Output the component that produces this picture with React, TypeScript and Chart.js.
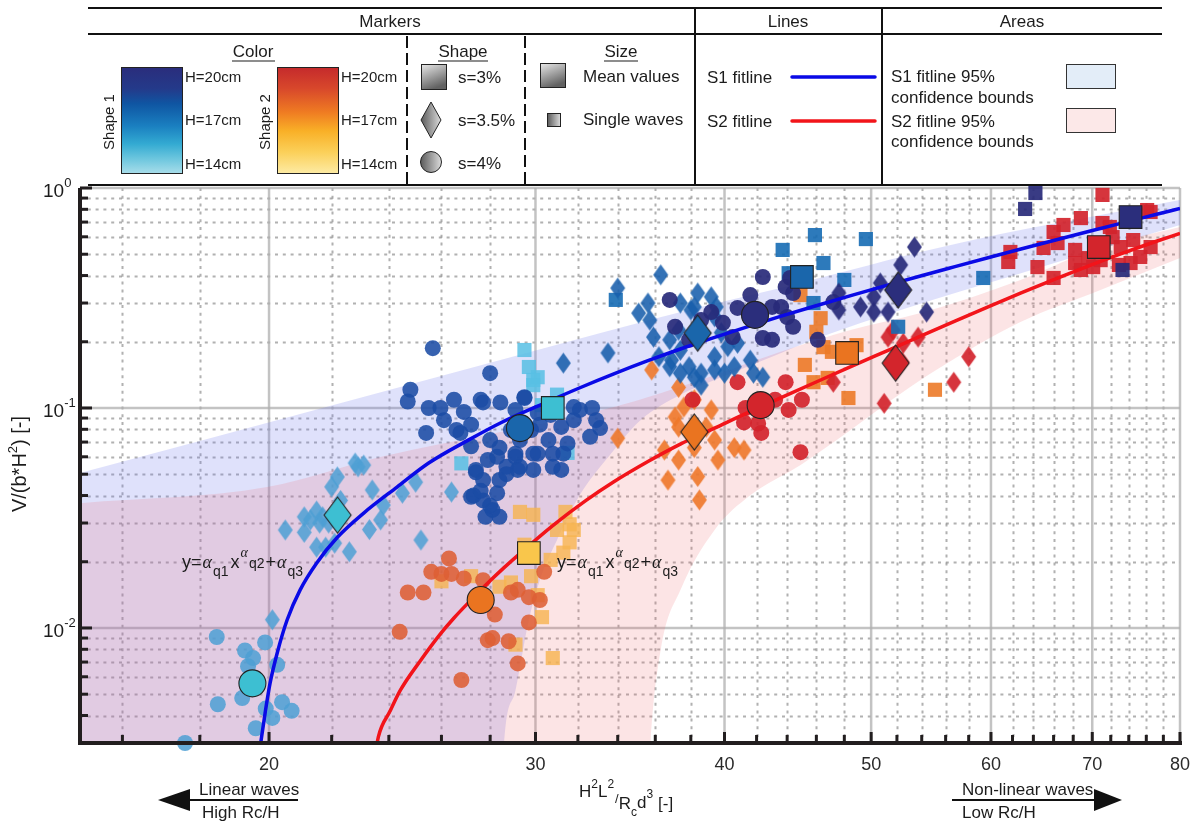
import React, { useEffect, useRef } from "react";
import { Chart, registerables } from "chart.js";

Chart.register(...registerables);

type P = [number, number];

// ---------------- axes ----------------
const xLimits: P = [15, 80];
const yLimits: P = [0.003, 1];
const xMajorTicks = [20, 30, 40, 50, 60, 70, 80];
const xTickLabels = ["20", "30", "40", "50", "60", "70", "80"];
const xMinorTicks = [16, 18, 22, 24, 26, 28, 32, 34, 36, 38, 42, 44, 46, 48, 52, 54, 56, 58, 62, 64, 66, 68, 72, 74, 76, 78];
const yMajorTicks = [0.01, 0.1, 1];
const yTickExponents = ["-2", "-1", "0"];
const yMinorTicks = [0.004, 0.005, 0.006, 0.007, 0.008, 0.009, 0.02, 0.03, 0.04, 0.05, 0.06, 0.07, 0.08, 0.09, 0.2, 0.3, 0.4, 0.5, 0.6, 0.7, 0.8, 0.9];

// ---------------- fit lines ----------------
const s1FitLine: P[] = [[19.72, 0.0028], [19.88, 0.0041], [20.03, 0.0056], [20.25, 0.0077], [20.56, 0.0109], [20.97, 0.0149], [21.5, 0.0197], [22.2, 0.0259], [23.1, 0.0333], [24.3, 0.0437], [25.5, 0.0562], [27.1, 0.0716], [28.44, 0.0855], [30.6, 0.1072], [32.1, 0.1236], [33.8, 0.1429], [35.6, 0.164], [37.4, 0.1854], [39.4, 0.2095], [41.5, 0.2351], [43.6, 0.2614], [45.8, 0.2894], [48.6, 0.326], [51.4, 0.3637], [53.9, 0.3983], [56.8, 0.4391], [59.9, 0.4843], [62.8, 0.528], [66.2, 0.5803], [69.7, 0.6357], [73.1, 0.6909], [77.1, 0.7577], [80, 0.8079]];
const s2FitLine: P[] = [[23.5, 0.0026], [23.62, 0.0032], [24.05, 0.0042], [24.42, 0.0052], [25.18, 0.0071], [25.96, 0.0094], [26.5, 0.0111], [27.17, 0.0133], [27.9, 0.016], [28.6, 0.0188], [29.32, 0.0219], [30.8, 0.0292], [32.4, 0.038], [33.8, 0.0462], [35.6, 0.0571], [37.4, 0.0685], [39.4, 0.081], [41.5, 0.0958], [43.56, 0.1112], [46.3, 0.134], [48.6, 0.1553], [51.4, 0.1839], [53.9, 0.2123], [56.8, 0.2483], [59.9, 0.2904], [62.76, 0.3324], [66.2, 0.3862], [69.7, 0.4437], [73.1, 0.5018], [77.1, 0.5713], [80, 0.622]];

// ---------------- 95% confidence bounds ----------------
const s1BoundUpper: P[] = [[15, 0.0506], [18, 0.0708], [20.97, 0.0939], [24.42, 0.1246], [28.44, 0.1652], [33.12, 0.2193], [38.57, 0.2877], [43.56, 0.351], [48.46, 0.424], [53.91, 0.512], [60.88, 0.618], [70.88, 0.754], [80, 0.882]];
const s1BoundLower: P[] = [[15, 0.0003], [28.2, 0.0003], [28.6, 0.003], [29.1, 0.0052], [29.7, 0.0109], [30.2, 0.0165], [31.0, 0.0251], [32.1, 0.0403], [33.6, 0.0612], [35.2, 0.088], [37.4, 0.115], [39.4, 0.134], [43.6, 0.178], [46.3, 0.21], [52.3, 0.279], [62.8, 0.41], [80, 0.679]];
const s2BoundUpper: P[] = [[15, 0.0369], [19.94, 0.0437], [23.69, 0.0599], [28.44, 0.0777], [33.8, 0.101], [38.57, 0.134], [43.56, 0.18], [48.46, 0.226], [53.91, 0.27], [62.76, 0.382], [70.88, 0.539], [80, 0.665]];
const s2BoundLower: P[] = [[15, 0.0003], [35.2, 0.0003], [35.74, 0.003], [36.29, 0.0079], [37.41, 0.0149], [39.4, 0.0279], [41.62, 0.0402], [44.91, 0.0551], [48.46, 0.0794], [51.35, 0.1065], [55.2, 0.149], [62.76, 0.246], [70.88, 0.344], [80, 0.48]];

// ---------------- single waves, Shape 1 ----------------
const s1CircleH14: P[] = [[18.47, 0.0091], [19.28, 0.0079], [19.52, 0.0073], [19.37, 0.0067], [20.25, 0.0068], [19.88, 0.0086], [18.5, 0.0045], [19.2, 0.0048], [19.9, 0.0043], [20.1, 0.0039], [20.4, 0.0046], [20.7, 0.0042], [19.6, 0.0035], [17.6, 0.003]];
const s1DiamondH14: P[] = [[22.19, 0.0486], [22.0, 0.0438], [22.8, 0.0562], [23.1, 0.055], [22.9, 0.054], [23.4, 0.0424], [24.5, 0.041], [25.0, 0.046], [26.4, 0.0415], [23.8, 0.0362], [21.1, 0.032], [21.5, 0.034], [21.7, 0.032], [21.6, 0.03], [21.9, 0.03], [20.5, 0.0279], [21.1, 0.0272], [21.5, 0.0233], [21.8, 0.0233], [22.1, 0.0243], [22.6, 0.0222], [23.3, 0.028], [23.7, 0.031], [25.2, 0.0251], [20.1, 0.0109], [21.3, 0.031], [22.3, 0.038]];
const s1SquareH14: P[] = [[29.5, 0.1835], [29.7, 0.1536], [30.1, 0.138], [29.9, 0.134], [29.9, 0.127], [31.0, 0.115], [26.8, 0.056], [31.5, 0.0625], [30.3, 0.103]];
const s1CircleH17: P[] = [[25.66, 0.187], [28.0, 0.144], [24.8, 0.121], [24.7, 0.107], [25.5, 0.1], [25.96, 0.1], [26.5, 0.109], [27.6, 0.109], [26.9, 0.096], [26.76, 0.077], [25.4, 0.077], [27.4, 0.0523], [27.3, 0.04], [27.7, 0.038], [27.8, 0.032], [28.1, 0.0344], [27.7, 0.106], [28.44, 0.106], [29.5, 0.112], [29.1, 0.098], [30.1, 0.095], [31.8, 0.101], [32.7, 0.1], [32.9, 0.088], [33.1, 0.081], [31.8, 0.088], [31.2, 0.082], [30.6, 0.0715], [31.5, 0.069], [30.8, 0.062], [29.9, 0.062], [29.1, 0.062], [28.4, 0.066], [28.0, 0.0715], [27.9, 0.058], [28.7, 0.054], [29.3, 0.054], [29.9, 0.0523], [30.8, 0.054], [31.2, 0.0523], [32.6, 0.074], [27.7, 0.047], [28.3, 0.041], [28.0, 0.036], [28.4, 0.032], [29.5, 0.111], [32.1, 0.098], [26.6, 0.0794], [28.3, 0.06], [29.1, 0.06], [30.1, 0.062], [29.2, 0.0523], [27.4, 0.051], [28.7, 0.05], [31.3, 0.062], [27.2, 0.0395], [27.6, 0.042], [26.1, 0.088], [27.2, 0.084], [28.9, 0.0794], [29.8, 0.0794], [30.2, 0.084], [30.7, 0.093], [29.3, 0.0715], [27.2, 0.067], [28.4, 0.047]];
const s1DiamondH17: P[] = [[36.3, 0.403], [34.0, 0.351], [35.1, 0.27], [33.5, 0.178], [31.3, 0.16], [35.6, 0.3], [35.7, 0.251], [35.9, 0.21], [36.8, 0.204], [37.4, 0.3], [38.4, 0.333], [39.2, 0.32], [38.2, 0.288], [39.4, 0.26], [37.4, 0.183], [36.9, 0.165], [37.9, 0.154], [38.6, 0.144], [39.4, 0.171], [40.2, 0.19], [40.8, 0.197], [39.4, 0.149], [40.0, 0.144], [40.6, 0.154], [41.6, 0.165], [41.8, 0.144], [42.4, 0.138], [37.4, 0.144], [38.2, 0.138], [36.8, 0.154], [36.2, 0.171], [37.3, 0.226], [39.8, 0.22], [38.0, 0.279], [39.5, 0.288], [38.6, 0.127]];
const s1SquareH17: P[] = [[33.9, 0.31], [43.7, 0.523], [45.9, 0.611], [49.6, 0.586], [46.5, 0.456], [48.0, 0.382], [44.1, 0.41], [59.3, 0.39], [52.1, 0.234], [45.8, 0.3]];
const s1CircleH20: P[] = [[36.8, 0.31], [37.1, 0.234], [37.9, 0.204], [39.2, 0.273], [39.9, 0.244], [40.8, 0.285], [41.6, 0.326], [42.4, 0.394], [43.0, 0.288], [43.0, 0.204], [44.4, 0.234], [44.2, 0.39], [46.1, 0.204], [47.2, 0.303], [42.4, 0.208], [40.5, 0.21], [43.9, 0.355], [44.4, 0.333], [43.6, 0.288], [44.0, 0.259], [38.6, 0.251]];
const s1DiamondH20: P[] = [[53.4, 0.539], [52.3, 0.447], [50.7, 0.37], [47.6, 0.333], [47.6, 0.279], [49.2, 0.288], [50.2, 0.32], [50.2, 0.273], [51.3, 0.273], [54.4, 0.273]];
const s1SquareH20: P[] = [[64.2, 0.949], [63.2, 0.803], [73.3, 0.424]];

// ---------------- single waves, Shape 2 ----------------
const s2SquareH14: P[] = [[29.3, 0.0337], [29.9, 0.0327], [31.4, 0.0337], [31.6, 0.0296], [31.0, 0.0279], [31.6, 0.0245], [31.3, 0.022], [30.7, 0.0204], [29.8, 0.0172], [28.9, 0.0161], [28.4, 0.0154], [27.2, 0.0172], [26.0, 0.0163], [30.1, 0.0141], [30.3, 0.0112], [30.8, 0.0073], [29.1, 0.0084], [31.8, 0.0279], [29.5, 0.0239]];
const s2CircleH17: P[] = [[26.3, 0.0207], [25.6, 0.018], [26.0, 0.0176], [26.4, 0.0176], [26.9, 0.0168], [24.7, 0.0145], [25.3, 0.0145], [27.7, 0.0165], [30.4, 0.018], [28.9, 0.0145], [29.2, 0.0149], [29.7, 0.0138], [30.2, 0.0134], [28.2, 0.0115], [29.7, 0.0106], [24.4, 0.0096], [27.9, 0.0088], [28.1, 0.009], [28.8, 0.0087], [29.2, 0.0069], [26.8, 0.0058]];
const s2DiamondH17: P[] = [[35.8, 0.149], [37.3, 0.124], [34.0, 0.0729], [38.2, 0.109], [37.6, 0.101], [37.1, 0.091], [37.3, 0.0819], [39.2, 0.098], [38.9, 0.0819], [39.4, 0.0715], [38.2, 0.066], [37.3, 0.058], [36.5, 0.0644], [40.6, 0.066], [41.2, 0.0644], [39.6, 0.058], [38.4, 0.0488], [36.7, 0.047], [38.5, 0.0382]];
const s2SquareH17: P[] = [[44.9, 0.326], [46.3, 0.256], [46.0, 0.222], [46.5, 0.189], [47.1, 0.18], [48.9, 0.193], [45.8, 0.131], [46.8, 0.137], [48.3, 0.111], [55.1, 0.121], [45.2, 0.157]];
const s2CircleH20: P[] = [[38.1, 0.109], [40.8, 0.131], [43.9, 0.131], [45.0, 0.109], [44.1, 0.098], [41.2, 0.086], [42.1, 0.085], [42.3, 0.077], [44.9, 0.063], [41.3, 0.1], [43.2, 0.109]];
const s2DiamondH20: P[] = [[51.3, 0.21], [52.5, 0.197], [53.7, 0.21], [52.4, 0.162], [47.2, 0.131], [58.0, 0.171], [56.7, 0.131], [51.0, 0.105], [51.7, 0.226]];
const s2SquareH20: P[] = [[71.1, 0.93], [76.1, 0.794], [68.8, 0.73], [67.0, 0.679], [66.0, 0.631], [66.4, 0.562], [65.0, 0.534], [61.8, 0.512], [61.6, 0.461], [64.4, 0.437], [66.0, 0.39], [68.2, 0.456], [69.6, 0.48], [71.1, 0.693], [72.2, 0.598], [74.5, 0.58], [76.5, 0.539], [75.3, 0.486], [74.2, 0.456], [72.9, 0.447], [70.9, 0.47], [68.8, 0.424], [70.1, 0.437], [73.1, 0.539], [76.5, 0.778], [68.2, 0.523], [71.9, 0.665]];

// ---------------- mean values (H = 14, 17, 20 cm) ----------------
const s1MeanCircles: P[] = [[19.5, 0.0056], [29.3, 0.081], [41.9, 0.265]];
const s1MeanDiamonds: P[] = [[22.2, 0.0326], [38.4, 0.219], [52.1, 0.344]];
const s1MeanSquares: P[] = [[30.8, 0.1], [45.0, 0.394], [74.2, 0.738]];
const s2MeanCircles: P[] = [[27.6, 0.0134], [42.26, 0.103]];
const s2MeanDiamonds: P[] = [[38.2, 0.0778], [51.9, 0.16]];
const s2MeanSquares: P[] = [[29.7, 0.0219], [48.2, 0.178], [70.7, 0.539]];

// ---------------- styling ----------------
const FONT = '"Liberation Sans", Arial, Helvetica, sans-serif';
const SERIF = '"Liberation Serif", "DejaVu Serif", serif';
const TEXT = "#1c1c1c";

const pts = (a: P[]) => a.map(([x, y]) => ({ x, y }));

function diamondImg(fill: string, w: number, h: number, stroke?: string) {
  const c = document.createElement("canvas");
  const pad = 2;
  c.width = w + pad * 2;
  c.height = h + pad * 2;
  const ctx = c.getContext("2d")!;
  ctx.beginPath();
  ctx.moveTo(c.width / 2, pad);
  ctx.lineTo(c.width - pad, c.height / 2);
  ctx.lineTo(c.width / 2, c.height - pad);
  ctx.lineTo(pad, c.height / 2);
  ctx.closePath();
  ctx.fillStyle = fill;
  ctx.fill();
  if (stroke) {
    ctx.lineWidth = 1.1;
    ctx.strokeStyle = stroke;
    ctx.stroke();
  }
  return c;
}

type Run = { t: string; size: number; dy: number; serif?: boolean; italic?: boolean; gap?: number };

function runsWidth(ctx: CanvasRenderingContext2D, runs: Run[]) {
  let w = 0;
  for (const r of runs) {
    ctx.font = `${r.italic ? "italic " : ""}${r.size}px ${r.serif ? SERIF : FONT}`;
    w += ctx.measureText(r.t).width + (r.gap ?? 0);
  }
  return w;
}
function drawRuns(ctx: CanvasRenderingContext2D, x: number, base: number, runs: Run[]) {
  let cx = x;
  ctx.fillStyle = TEXT;
  ctx.textAlign = "left";
  ctx.textBaseline = "alphabetic";
  for (const r of runs) {
    ctx.font = `${r.italic ? "italic " : ""}${r.size}px ${r.serif ? SERIF : FONT}`;
    ctx.fillText(r.t, cx, base + r.dy);
    cx += ctx.measureText(r.t).width + (r.gap ?? 0);
  }
}

const formulaRuns: Run[] = [
  { t: "y=", size: 18, dy: 0, gap: 1 },
  { t: "α", size: 18, dy: 0, serif: true, italic: true, gap: 1 },
  { t: "q1", size: 14, dy: 8, gap: 2 },
  { t: "x", size: 18, dy: 0, gap: 1 },
  { t: "α", size: 14, dy: -11, serif: true, italic: true, gap: 1 },
  { t: "q2", size: 14, dy: 0, gap: 1 },
  { t: "+", size: 18, dy: 0, gap: 1 },
  { t: "α", size: 18, dy: 0, serif: true, italic: true, gap: 1 },
  { t: "q3", size: 14, dy: 8 },
];

const axesPlugin = {
  id: "paperAxes",
  beforeDatasetsDraw(chart: any) {
    const { ctx, chartArea: a, scales } = chart;
    const xs = scales.x, ys = scales.y;
    ctx.save();
    ctx.lineWidth = 2;
    ctx.strokeStyle = "rgba(140,140,140,0.68)";
    ctx.setLineDash([3, 4.8]);
    for (const v of xMinorTicks) {
      const p = Math.round(xs.getPixelForValue(v)) + 0.5;
      ctx.beginPath(); ctx.moveTo(p, a.top); ctx.lineTo(p, a.bottom); ctx.stroke();
    }
    for (const v of yMinorTicks) {
      const p = Math.round(ys.getPixelForValue(v)) + 0.5;
      ctx.beginPath(); ctx.moveTo(a.left, p); ctx.lineTo(a.right, p); ctx.stroke();
    }
    ctx.setLineDash([]);
    ctx.lineWidth = 2.5;
    ctx.strokeStyle = "rgba(175,175,175,0.75)";
    for (const v of xMajorTicks) {
      const p = xs.getPixelForValue(v);
      ctx.beginPath(); ctx.moveTo(p, a.top); ctx.lineTo(p, a.bottom); ctx.stroke();
    }
    for (const v of yMajorTicks) {
      const p = ys.getPixelForValue(v);
      ctx.beginPath(); ctx.moveTo(a.left, p); ctx.lineTo(a.right, p); ctx.stroke();
    }
    ctx.restore();
  },
  afterDatasetsDraw(chart: any) {
    const { ctx, chartArea: a, scales } = chart;
    const xs = scales.x, ys = scales.y;
    ctx.save();
    // axis lines
    ctx.strokeStyle = "#221e1f";
    ctx.lineWidth = 4;
    ctx.beginPath();
    ctx.moveTo(a.left, a.top);
    ctx.lineTo(a.left, a.bottom);
    ctx.lineTo(a.right + 2, a.bottom);
    ctx.stroke();
    // ticks
    ctx.lineWidth = 3;
    for (const v of yMinorTicks) {
      const p = ys.getPixelForValue(v);
      ctx.beginPath(); ctx.moveTo(a.left, p); ctx.lineTo(a.left + 8, p); ctx.stroke();
    }
    for (const v of yMajorTicks) {
      const p = ys.getPixelForValue(v);
      ctx.beginPath(); ctx.moveTo(a.left, p); ctx.lineTo(a.left + 12, p); ctx.stroke();
    }
    for (const v of xMinorTicks) {
      const p = xs.getPixelForValue(v);
      ctx.beginPath(); ctx.moveTo(p, a.bottom); ctx.lineTo(p, a.bottom - 8); ctx.stroke();
    }
    for (const v of xMajorTicks) {
      const p = xs.getPixelForValue(v);
      ctx.beginPath(); ctx.moveTo(p, a.bottom); ctx.lineTo(p, a.bottom - 11); ctx.stroke();
    }
    // x tick labels
    ctx.fillStyle = "#2a2a2a";
    ctx.font = `18px ${FONT}`;
    ctx.textAlign = "center";
    ctx.textBaseline = "alphabetic";
    xMajorTicks.forEach((v, i) => ctx.fillText(xTickLabels[i], xs.getPixelForValue(v), 770));
    // y tick labels 10^n
    yMajorTicks.forEach((v, i) => {
      const p = ys.getPixelForValue(v);
      drawRuns(ctx, 43, p + 9, [
        { t: "10", size: 19, dy: 0 },
        { t: yTickExponents[i], size: 13, dy: -10 },
      ]);
    });
    // y axis title
    const yTitle: Run[] = [
      { t: "V/(b*H", size: 20, dy: 0 },
      { t: "2", size: 13, dy: -9 },
      { t: ") [-]", size: 20, dy: 0 },
    ];
    ctx.save();
    ctx.translate(26, 464);
    ctx.rotate(-Math.PI / 2);
    drawRuns(ctx, -runsWidth(ctx, yTitle) / 2, 0, yTitle);
    ctx.restore();
    // x axis title
    drawRuns(ctx, 579, 797, [
      { t: "H", size: 17, dy: 0 },
      { t: "2", size: 12, dy: -9 },
      { t: "L", size: 17, dy: 0 },
      { t: "2", size: 12, dy: -9, gap: 1 },
      { t: "/", size: 13, dy: 6 },
      { t: "R", size: 17, dy: 12 },
      { t: "c", size: 12, dy: 19 },
      { t: "d", size: 17, dy: 11 },
      { t: "3", size: 12, dy: 1, gap: 5 },
      { t: "[-]", size: 17, dy: 12 },
    ]);
    // formulas
    drawRuns(ctx, 182, 568, formulaRuns);
    drawRuns(ctx, 557, 568, formulaRuns);
    // arrows
    ctx.strokeStyle = "#111";
    ctx.fillStyle = "#111";
    ctx.lineWidth = 2;
    ctx.beginPath(); ctx.moveTo(188, 800); ctx.lineTo(298, 800); ctx.stroke();
    ctx.beginPath(); ctx.moveTo(158, 800); ctx.lineTo(190, 789); ctx.lineTo(190, 811); ctx.closePath(); ctx.fill();
    ctx.beginPath(); ctx.moveTo(952, 800); ctx.lineTo(1096, 800); ctx.stroke();
    ctx.beginPath(); ctx.moveTo(1122, 800); ctx.lineTo(1094, 789); ctx.lineTo(1094, 811); ctx.closePath(); ctx.fill();
    ctx.font = `17px ${FONT}`;
    ctx.textAlign = "left";
    ctx.fillStyle = TEXT;
    ctx.fillText("Linear waves", 199, 795);
    ctx.fillText("High Rc/H", 202, 818);
    ctx.fillText("Non-linear waves", 962, 795);
    ctx.fillText("Low Rc/H", 962, 818);
    ctx.restore();
  },
};

// colours
const C = {
  s1h14: "rgba(78,160,212,0.86)",
  s1h14sq: "rgba(88,192,228,0.86)",
  s1h17c: "rgba(27,76,165,0.88)",
  s1h17d: "rgba(24,94,172,0.88)",
  s1h17s: "rgba(22,108,180,0.9)",
  s1h20: "rgba(40,42,122,0.92)",
  s2h14: "rgba(246,180,82,0.82)",
  s2h17c: "rgba(222,96,54,0.88)",
  s2h17d: "rgba(238,120,42,0.9)",
  s2h17s: "rgba(236,122,40,0.9)",
  s2h20: "rgba(211,36,44,0.92)",
};
const MEAN1 = ["#3dbfd2", "#1a66ab", "#2b2e7c"];
const MEAN2 = ["#f9c64b", "#ea7420", "#d3252c"];

function buildDatasets() {
  const ds: any[] = [];
  const band = (data: P[], fill: any, color: string, order: number) => ({
    type: "line",
    data: pts(data),
    borderColor: "rgba(0,0,0,0)",
    borderWidth: 0,
    pointRadius: 0,
    fill,
    backgroundColor: color,
    cubicInterpolationMode: "monotone",
    order,
  });
  ds.push(band(s1BoundUpper, "+1", "rgba(110,120,235,0.22)", 110));
  ds.push(band(s1BoundLower, false, "rgba(0,0,0,0)", 109));
  ds.push(band(s2BoundUpper, "+1", "rgba(238,92,98,0.17)", 108));
  ds.push(band(s2BoundLower, false, "rgba(0,0,0,0)", 107));

  const single = (data: P[], style: any, color: string, radius: number, order: number) => ({
    type: "scatter",
    data: pts(data),
    pointStyle: style,
    pointRadius: radius,
    pointBackgroundColor: color,
    pointBorderWidth: 0,
    pointBorderColor: "rgba(0,0,0,0)",
    clip: false,
    order,
  });
  const dia = (c: string) => diamondImg(c, 15, 21);
  // Shape 2 singles
  ds.push(single(s2SquareH14, "rect", C.s2h14, 10, 70));
  ds.push(single(s2SquareH17, "rect", C.s2h17s, 10, 69));
  ds.push(single(s2SquareH20, "rect", C.s2h20, 10, 68));
  ds.push(single(s2DiamondH17, dia(C.s2h17d), C.s2h17d, 10, 67));
  ds.push(single(s2DiamondH20, dia(C.s2h20), C.s2h20, 10, 66));
  ds.push(single(s2CircleH17, "circle", C.s2h17c, 8, 65));
  ds.push(single(s2CircleH20, "circle", C.s2h20, 8, 64));
  // Shape 1 singles
  ds.push(single(s1SquareH14, "rect", C.s1h14sq, 10, 60));
  ds.push(single(s1SquareH17, "rect", C.s1h17s, 10, 59));
  ds.push(single(s1SquareH20, "rect", C.s1h20, 10, 58));
  ds.push(single(s1DiamondH14, dia(C.s1h14), C.s1h14, 10, 57));
  ds.push(single(s1DiamondH17, dia(C.s1h17d), C.s1h17d, 10, 56));
  ds.push(single(s1DiamondH20, dia(C.s1h20), C.s1h20, 10, 55));
  ds.push(single(s1CircleH14, "circle", C.s1h14, 8, 54));
  ds.push(single(s1CircleH17, "circle", C.s1h17c, 8, 53));
  ds.push(single(s1CircleH20, "circle", C.s1h20, 8, 52));

  // fit lines
  const fit = (data: P[], color: string, order: number) => ({
    type: "line",
    data: pts(data),
    borderColor: color,
    borderWidth: 3.5,
    pointRadius: 0,
    fill: false,
    cubicInterpolationMode: "monotone",
    order,
  });
  ds.push(fit(s1FitLine, "#0a0ae6", 20));
  ds.push(fit(s2FitLine, "#f2141a", 19));

  // means
  const mean = (data: P[], style: any, colors: string[], radius: number, order: number) => ({
    type: "scatter",
    data: pts(data),
    pointStyle: style,
    pointRadius: radius,
    pointBackgroundColor: colors,
    pointBorderColor: "#222",
    pointBorderWidth: 1.1,
    clip: false,
    order,
  });
  ds.push(mean(s2MeanSquares, "rect", MEAN2, 16, 6));
  ds.push(mean(s2MeanDiamonds, [MEAN2[1], MEAN2[2]].map((c) => diamondImg(c, 27, 36, "#222")), [MEAN2[1], MEAN2[2]], 14, 5));
  ds.push(mean(s2MeanCircles, "circle", [MEAN2[1], MEAN2[2]], 13.5, 4));
  ds.push(mean(s1MeanSquares, "rect", MEAN1, 16, 3));
  ds.push(mean(s1MeanDiamonds, MEAN1.map((c) => diamondImg(c, 27, 36, "#222")), MEAN1, 14, 2));
  ds.push(mean(s1MeanCircles, "circle", MEAN1, 13.5, 1));
  return ds;
}

function LegendTable() {
  const t = (x: number, y: number, s: string, size = 17, anchor = "start") => (
    <text x={x} y={y} fontSize={size} textAnchor={anchor as any} dominantBaseline="central" fill={TEXT}>
      {s}
    </text>
  );
  return (
    <svg width={1200} height={190} style={{ position: "absolute", left: 0, top: 0 }} fontFamily={FONT}>
      <defs>
        <linearGradient id="cb1" x1="0" y1="0" x2="0" y2="1">
          <stop offset="0" stopColor="#2a2d7c" />
          <stop offset="0.2" stopColor="#243a8a" />
          <stop offset="0.34" stopColor="#0f55a2" />
          <stop offset="0.55" stopColor="#1a7fc0" />
          <stop offset="0.72" stopColor="#33aad2" />
          <stop offset="0.86" stopColor="#6cc6de" />
          <stop offset="1" stopColor="#a8ddea" />
        </linearGradient>
        <linearGradient id="cb2" x1="0" y1="0" x2="0" y2="1">
          <stop offset="0" stopColor="#c52a2c" />
          <stop offset="0.2" stopColor="#d8482b" />
          <stop offset="0.42" stopColor="#ef7b22" />
          <stop offset="0.6" stopColor="#f9b027" />
          <stop offset="0.8" stopColor="#fbd05a" />
          <stop offset="1" stopColor="#fdeba4" />
        </linearGradient>
        <linearGradient id="gv" x1="0" y1="0" x2="0.4" y2="1">
          <stop offset="0" stopColor="#e8e8e8" />
          <stop offset="1" stopColor="#626262" />
        </linearGradient>
        <linearGradient id="gh" x1="0" y1="0" x2="1" y2="0">
          <stop offset="0" stopColor="#5a5a5a" />
          <stop offset="1" stopColor="#dcdcdc" />
        </linearGradient>
      </defs>
      <g stroke="#111" strokeWidth={2}>
        <line x1={88} y1={8} x2={1162} y2={8} />
        <line x1={88} y1={34} x2={1162} y2={34} />
        <line x1={88} y1={185} x2={1162} y2={185} />
        <line x1={695} y1={8} x2={695} y2={185} />
        <line x1={882} y1={8} x2={882} y2={185} />
        <line x1={407} y1={36} x2={407} y2={185} strokeDasharray="12 5" />
        <line x1={525} y1={36} x2={525} y2={185} strokeDasharray="12 5" />
      </g>
      {t(390, 21, "Markers", 17, "middle")}
      {t(788, 21, "Lines", 17, "middle")}
      {t(1022, 21, "Areas", 17, "middle")}
      {t(253, 51, "Color", 17, "middle")}
      {t(463, 51, "Shape", 17, "middle")}
      {t(621, 51, "Size", 17, "middle")}
      <g stroke={TEXT} strokeWidth={1.2}>
        <line x1={232} y1={61} x2={275} y2={61} />
        <line x1={438} y1={61} x2={488} y2={61} />
        <line x1={604} y1={61} x2={638} y2={61} />
      </g>
      {/* colour bars */}
      <rect x={121.5} y={67.5} width={61} height={106} fill="url(#cb1)" stroke="#222" strokeWidth={1} />
      <rect x={277.5} y={67.5} width={61} height={106} fill="url(#cb2)" stroke="#222" strokeWidth={1} />
      <text x={0} y={0} fontSize={15} textAnchor="middle" dominantBaseline="central" fill={TEXT} transform="translate(108,122) rotate(-90)">Shape 1</text>
      <text x={0} y={0} fontSize={15} textAnchor="middle" dominantBaseline="central" fill={TEXT} transform="translate(264,122) rotate(-90)">Shape 2</text>
      {t(185, 76, "H=20cm", 15)}
      {t(185, 119, "H=17cm", 15)}
      {t(185, 163, "H=14cm", 15)}
      {t(341, 76, "H=20cm", 15)}
      {t(341, 119, "H=17cm", 15)}
      {t(341, 163, "H=14cm", 15)}
      {/* shapes */}
      <rect x={421.5} y={64.5} width={25} height={25} fill="url(#gv)" stroke="#222" strokeWidth={1} />
      <polygon points="431,102 441,120 431,138 421,120" fill="url(#gh)" stroke="#222" strokeWidth={1} />
      <circle cx={431} cy={162} r={10.5} fill="url(#gh)" stroke="#222" strokeWidth={1} />
      {t(458, 77, "s=3%")}
      {t(458, 120, "s=3.5%")}
      {t(458, 163, "s=4%")}
      {/* size */}
      <rect x={540.5} y={63.5} width={25} height={24} fill="url(#gv)" stroke="#222" strokeWidth={1} />
      <rect x={547.5} y={113.5} width={13} height={13} fill="url(#gh)" stroke="#222" strokeWidth={1} />
      {t(583, 76, "Mean values")}
      {t(583, 119, "Single waves")}
      {/* lines */}
      {t(707, 77, "S1 fitline")}
      {t(707, 121, "S2 fitline")}
      <line x1={792} y1={77} x2={875} y2={77} stroke="#0a0ae6" strokeWidth={3.5} strokeLinecap="round" />
      <line x1={792} y1={121} x2={875} y2={121} stroke="#f2141a" strokeWidth={3.5} strokeLinecap="round" />
      {/* areas */}
      {t(891, 76, "S1 fitline 95%")}
      {t(891, 97, "confidence bounds")}
      {t(891, 121, "S2 fitline 95%")}
      {t(891, 141, "confidence bounds")}
      <rect x={1066.5} y={64.5} width={49} height={24} fill="#e3edf8" stroke="#333" strokeWidth={1} />
      <rect x={1066.5} y={108.5} width={49} height={24} fill="#fce8e8" stroke="#333" strokeWidth={1} />
    </svg>
  );
}

export default function App() {
  const canvasRef = useRef<HTMLCanvasElement>(null);
  useEffect(() => {
    const canvas = canvasRef.current;
    if (!canvas) return;
    const chart = new Chart(canvas, {
      type: "scatter",
      data: { datasets: buildDatasets() },
      options: {
        responsive: false,
        animation: false,
        events: [],
        layout: { padding: { left: 80, top: 188, right: 20, bottom: 82 } },
        plugins: { legend: { display: false }, tooltip: { enabled: false } },
        scales: {
          x: { type: "logarithmic", min: xLimits[0], max: xLimits[1], display: false, bounds: "data" },
          y: { type: "logarithmic", min: yLimits[0], max: yLimits[1], display: false, bounds: "data" },
        },
      } as any,
      plugins: [axesPlugin as any],
    });
    return () => chart.destroy();
  }, []);
  return (
    <div style={{ position: "absolute", left: 0, top: 0, width: 1200, height: 825, background: "#fff", overflow: "hidden" }}>
      <canvas ref={canvasRef} width={1200} height={825} style={{ position: "absolute", left: 0, top: 0 }} />
      <LegendTable />
    </div>
  );
}
